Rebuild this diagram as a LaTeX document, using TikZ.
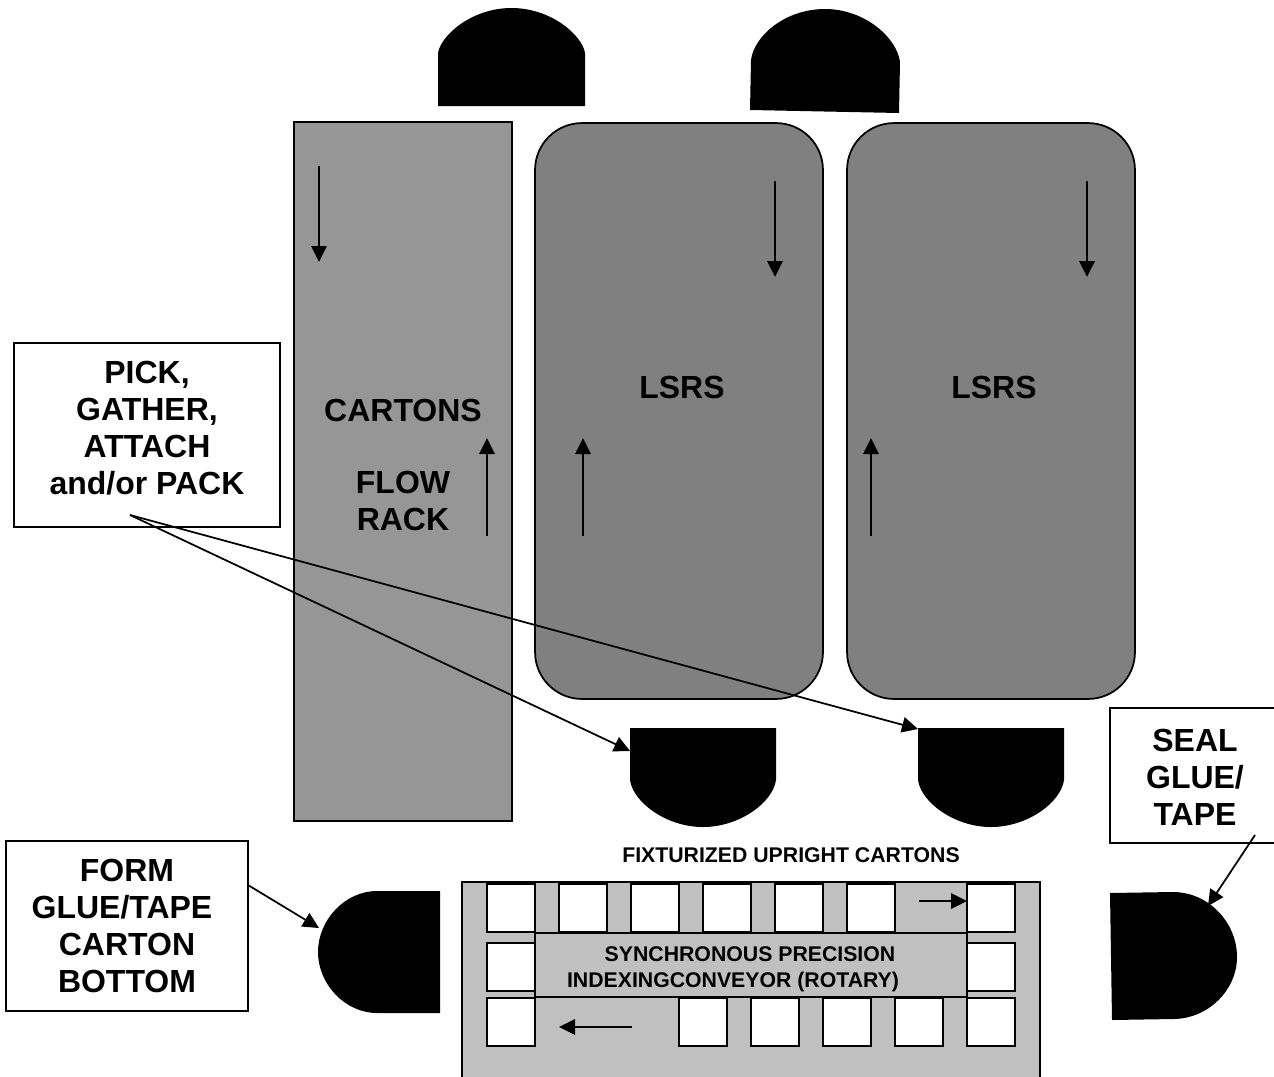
\documentclass[tikz,border=0pt]{standalone}
\usepackage{fontspec}
\setmainfont{Liberation Sans}
\usetikzlibrary{arrows.meta,positioning}
\definecolor{rackGray}{HTML}{969696}
\definecolor{lsrsGray}{HTML}{808080}
\definecolor{beltGray}{HTML}{C0C0C0}
\tikzset{
  lbl/.style={font=\fontsize{18.2}{21}\selectfont\bfseries, align=center, inner sep=0pt},
  lblS/.style={font=\fontsize{12.1}{14.7}\selectfont\bfseries, align=center, inner sep=0pt},
  tag/.style={draw=black, fill=white, line width=0.04cm, inner sep=0pt},
  lsrs/.style={draw=black, fill=lsrsGray, line width=0.035cm, rounded corners=0.94cm, minimum width=5.76cm, minimum height=11.52cm},
  cell/.style={draw=black, fill=white, line width=0.035cm, minimum size=0.96cm, inner sep=0pt},
  arr/.style={-{Triangle[length=0.32cm,width=0.31cm]}, line width=0.035cm, draw=black},
}
\begin{document}
\begin{tikzpicture}[x=0.02cm,y=-0.02cm]
            \useasboundingbox (0,0) rectangle (1274,1076);
            \clip (0,0) rectangle (1274,1076);
            % lamps above the racks
            \fill (438,106) -- (438,53) .. controls (441,35) and (472,8) .. (511.5,8) .. controls (551,8) and (582,35) .. (585,53) -- (585,106) -- cycle;
            \fill (750,110) -- (751,60) .. controls (754,36) and (785,9) .. (825,9) .. controls (865,9) and (897,38) .. (900,62) -- (899,113) -- cycle;
            % racks
            \node[draw=black, fill=rackGray, line width=0.04cm, minimum width=4.36cm, minimum height=13.98cm] (rack) at (403,471.5) {};
            \node[lsrs] (lsrsA) at (679,411) {};
            \node[lsrs] (lsrsB) at (991,411) {};
            \node[lbl] (cartons) at (403,410) {CARTONS};
            \node[lbl] (flow) at (403,501) {FLOW\\RACK};
            \node[lbl] (lsrsTextA) at (682,387) {LSRS};
            \node[lbl] (lsrsTextB) at (994,387) {LSRS};
            % lamps below the racks
            \foreach \x in {630,918} {
                \fill (\x,728) -- (\x+146,728) -- (\x+146,780) .. controls (\x+143,802) and (\x+110,827) .. (\x+73,827) .. controls (\x+36,827) and (\x+3,802) .. (\x,780) -- cycle;
            }
            \fill (440,891) -- (377,891) .. controls (345,891) and (318,920) .. (318,952) .. controls (318,984) and (345,1013) .. (377,1013) -- (440,1013) -- cycle;
            \fill (1110,893) -- (1173,892) .. controls (1208,892) and (1237,922) .. (1237,957) .. controls (1237,990) and (1208,1019) .. (1173,1019) -- (1112,1020) -- cycle;
            % tags
            \node[tag, minimum width=5.32cm, minimum height=3.68cm] (pick) at (147,435) {};
            \node[lbl] (pickText) at (147,428) {PICK,\\GATHER,\\ATTACH\\and/or PACK};
            \node[tag, minimum width=4.84cm, minimum height=3.4cm] (form) at (127,926) {};
            \node[lbl] (formText) at (127,926) {FORM\\GLUE/TAPE\kern0.2cm\\CARTON\\BOTTOM};
            \node[tag, minimum width=3.4cm, minimum height=2.7cm] (seal) at (1195,775.5) {};
            \node[lbl] (sealText) at (1195,777) {SEAL\\GLUE/\\TAPE};
            % conveyor
            \node[lblS] (fixture) at (791,855) {FIXTURIZED UPRIGHT CARTONS};
            \node[draw=black, fill=beltGray, line width=0.035cm, minimum width=11.56cm, minimum height=4.2cm] (belt) at (751,987) {};
            \foreach \x in {487,559,631,703,775,847,967} \node[cell] (top\x) at (\x+24,908) {};
            \foreach \x in {487,967} \node[cell] (mid\x) at (\x+24,967) {};
            \foreach \x in {487,679,751,823,895,967} \node[cell] (low\x) at (\x+24,1022) {};
            \node[draw=black, fill=beltGray, line width=0.035cm, minimum width=8.64cm, minimum height=1.28cm] (band) at (751,965) {};
            \node[lblS] (bandText) at (750,969) {SYNCHRONOUS PRECISION\\INDEXINGCONVEYOR (ROTARY)\hspace*{0.68cm}};
            % connectors
            \foreach \n/\x/\a/\b in {rackD/319/166/262,rackU/487/536/438,lsrsAD/775/181/277,lsrsAU/583/536/438,lsrsBD/1087/181/277,lsrsBU/871/536/438} {
                \coordinate (\n s) at (\x,\a);
                \coordinate (\n e) at (\x,\b);
                \draw[arr] (\n s) -- (\n e);
            }
            \coordinate (pickTail) at (130,515);
            \coordinate (lampA) at (630,751);
            \coordinate (lampB) at (918,729);
            \coordinate (formTail) at (248,885);
            \coordinate (formEnd) at (319,928);
            \coordinate (sealTail) at (1255,835);
            \coordinate (sealEnd) at (1208,906);
            \coordinate (stepRs) at (919,901);
            \coordinate (stepRe) at (967,901);
            \coordinate (stepLs) at (632,1027);
            \coordinate (stepLe) at (559,1027);
            \draw[arr] (pickTail) -- (lampA);
            \draw[arr] (pickTail) -- (lampB);
            \draw[arr] (formTail) -- (formEnd);
            \draw[arr] (sealTail) -- (sealEnd);
            \draw[arr] (stepRs) -- (stepRe);
            \draw[arr] (stepLs) -- (stepLe);
        \end{tikzpicture}
\end{document}
